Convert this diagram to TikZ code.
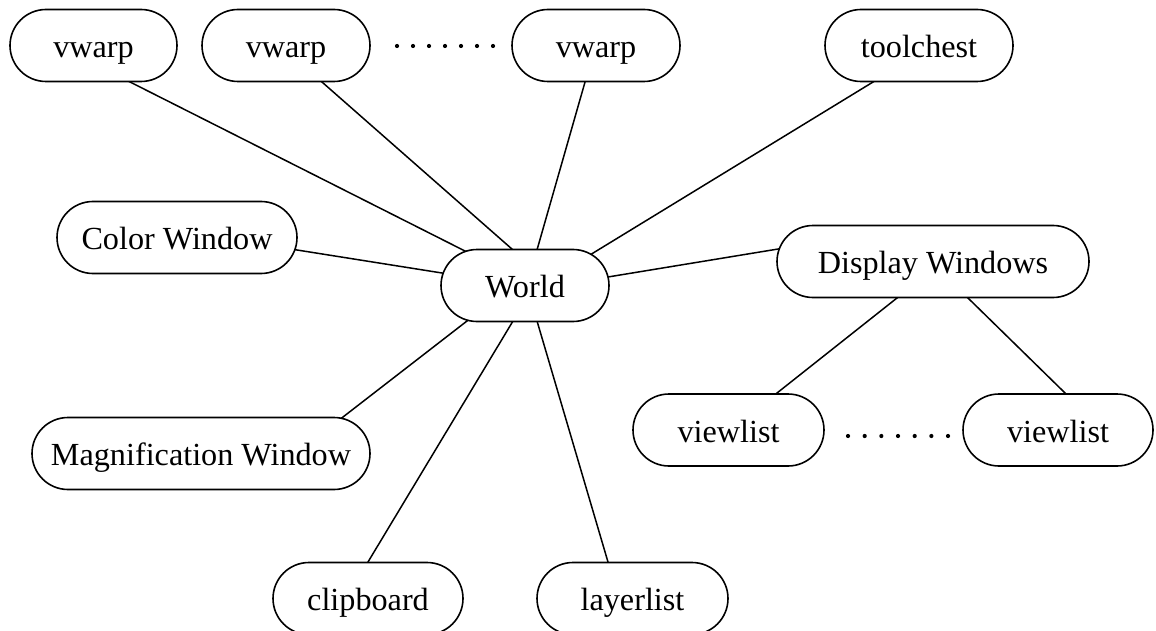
\documentclass[tikz,border=0pt]{standalone}
\usepackage{fontspec}
\setmainfont{Liberation Serif}
\usetikzlibrary{backgrounds,shapes.misc}
\begin{document}
\begin{tikzpicture}[x=1pt,y=-1pt,
  box/.style={rounded rectangle, draw, fill=white, line width=1.6pt,
    minimum height=72pt, inner sep=0pt, text height=24pt, text depth=0pt,
    font=\fontsize{32.2}{37}\selectfont},
  link/.style={line width=1.5pt},
  dot/.style={fill=black}]
\useasboundingbox (0,0) rectangle (1156,631);
\clip (0,0) rectangle (1156,631);
% nodes
\node[box, minimum width=167pt] (v1) at (93.5,45.5) {vwarp};
\node[box, minimum width=168pt] (v2) at (286,45.5) {vwarp};
\node[box, minimum width=168pt] (v3) at (596,45.5) {vwarp};
\node[box, minimum width=188pt] (tool) at (919,45.5) {toolchest};
\node[box, minimum width=240pt] (color) at (177,237.5) {Color Window};
\node[box, minimum width=168pt] (world) at (525,285.5) {World};
\node[box, minimum width=312pt] (disp) at (933,261.5) {Display Windows};
\node[box, minimum width=191pt] (vl1) at (728.5,430) {viewlist};
\node[box, minimum width=190pt] (vl2) at (1058,430) {viewlist};
\node[box, minimum width=338pt] (mag) at (201,453.5) {Magnification Window};
\node[box, minimum width=190pt] (clip) at (368,598.5) {clipboard};
\node[box, minimum width=191pt] (layer) at (632.5,598.5) {layerlist};
% dots
\foreach \i in {0,...,6} {
  \fill[dot] (397+16*\i,46) circle (2.1);
  \fill[dot] (848+16.67*\i,436) circle (2.1);
}
% connectors
\begin{pgfonlayer}{background}
\draw[link] ([shift={(32,34.2)}]v1.center) -- ([shift={(-53.5,-31.2)}]world.center);
\draw[link] ([shift={(32.2,33.2)}]v2.center) -- ([shift={(-8.2,-32.2)}]world.center);
\draw[link] ([shift={(-9.6,31.7)}]v3.center) -- ([shift={(10.6,-30.7)}]world.center);
\draw[link] ([shift={(-41.7,33.9)}]tool.center) -- ([shift={(55.7,-24.9)}]world.center);
\draw[link] ([shift={(115,11.7)}]color.center) -- ([shift={(-78,-11.7)}]world.center);
\draw[link] ([shift={(78,-7.7)}]world.center) -- ([shift={(-150,-13.3)}]disp.center);
\draw[link] ([shift={(-32.1,33.4)}]disp.center) -- ([shift={(44.6,-33.9)}]vl1.center);
\draw[link] ([shift={(31.4,33)}]disp.center) -- ([shift={(10.6,-33.5)}]vl2.center);
\draw[link] ([shift={(-54,32.4)}]world.center) -- ([shift={(138,-33.4)}]mag.center);
\draw[link] ([shift={(-9.4,31.2)}]world.center) -- ([shift={(-2.6,-32.2)}]clip.center);
\draw[link] ([shift={(10.6,30.7)}]world.center) -- ([shift={(-23.1,-31.7)}]layer.center);
\end{pgfonlayer}
\end{tikzpicture}
\end{document}
